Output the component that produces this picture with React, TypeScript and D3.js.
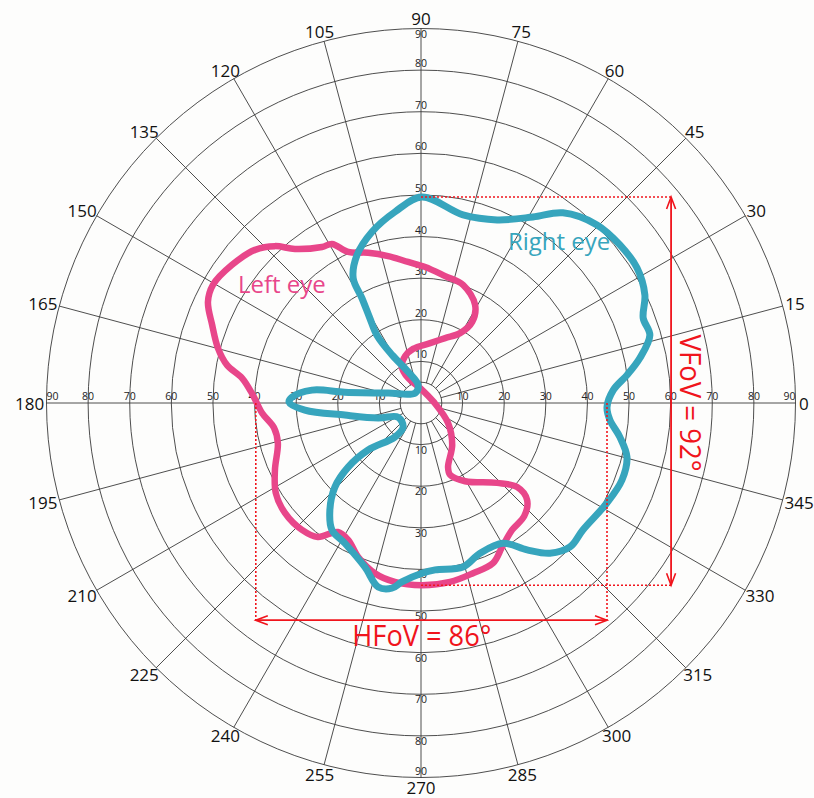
import React from 'react';
import * as d3 from 'd3';

// visual field in degrees: [horizontal, vertical] eccentricity
const rightEye: [number, number][] = [
  [0.2, 49.5], [10.1, 45.2], [18.3, 44.0], [26.9, 44.7], [34.1, 45.7], [42.3, 42.8],
  [47.8, 38.0], [51.9, 32.5], [53.8, 26.0], [53.4, 20.4], [55.0, 16.3], [52.6, 10.8],
  [49.5, 6.7], [46.2, 3.1], [44.7, -1.0], [45.4, -4.1], [47.8, -8.2], [49.5, -13.0],
  [48.3, -18.5], [44.7, -24.0], [38.9, -30.5], [35.8, -34.6], [31.0, -36.1], [25.5, -35.3],
  [19.7, -33.7], [14.2, -36.1], [10.1, -39.4], [3.4, -40.1], [0.2, -40.9], [-4.6, -43.0],
  [-7.0, -44.5], [-10.3, -44.2], [-13.5, -39.4], [-18.3, -33.7], [-21.4, -30.5], [-21.9, -25.7],
  [-20.7, -20.2], [-17.5, -15.4], [-12.7, -11.3], [-6.3, -8.2], [-4.3, -5.8], [-5.5, -3.4],
  [-10.3, -3.6], [-18.3, -2.9], [-27.9, -1.7], [-31.7, 0.2], [-31.0, 1.4], [-26.2, 3.1],
  [-18.3, 2.6], [-7.9, 2.4], [-1.4, 2.4], [-0.7, 4.3], [-3.1, 7.5], [-6.9, 11.5],
  [-10.6, 16.3], [-12.3, 20.4], [-14.2, 25.2], [-16.3, 30.0], [-15.4, 35.5], [-11.8, 41.1],
  [-6.3, 45.9],
];

const leftEye: [number, number][] = [
  [-4.6, 8.7], [-3.8, 11.3], [-1.9, 13.0], [2.2, 14.4], [5.8, 15.6], [9.4, 16.8],
  [12.3, 19.5], [13.0, 23.6], [10.1, 28.4], [5.8, 30.5], [1.0, 32.7], [-3.1, 33.9],
  [-7.9, 35.3], [-12.7, 36.1], [-17.5, 36.3], [-21.4, 38.2], [-23.8, 37.5], [-30.3, 37.0],
  [-35.1, 37.7], [-39.9, 36.8], [-45.4, 33.2], [-50.0, 28.4], [-51.2, 24.3], [-50.2, 18.8],
  [-48.8, 13.2], [-46.6, 9.1], [-43.0, 6.0], [-40.4, 1.9], [-38.2, -2.4], [-35.3, -6.0],
  [-34.4, -9.6], [-35.1, -16.1], [-34.9, -21.6], [-32.7, -26.4], [-28.6, -30.5], [-24.8, -32.2],
  [-20.0, -31.0], [-17.5, -32.9], [-15.1, -37.0], [-11.1, -40.9], [-6.3, -43.0], [0.2, -43.8],
  [7.0, -43.0], [12.5, -40.9], [17.3, -38.5], [19.5, -34.6], [21.9, -30.5], [24.8, -27.2],
  [25.5, -23.3], [23.1, -20.2], [18.3, -19.2], [10.6, -18.8], [7.0, -17.3], [6.5, -15.4],
  [7.5, -10.1], [6.5, -4.8], [3.1, 0.2], [-0.2, 3.6], [-3.1, 6.0],
];

const angleTicks = [0, 15, 30, 45, 60, 75, 90, 105, 120, 135, 150, 165, 180, 195, 210, 225, 240, 255, 270, 285, 300, 315, 330, 345];
const rings = [10, 20, 30, 40, 50, 60, 70, 80, 90];
const innerRing = 5;

// field of view box (degrees) and the two measurements
const fovTop = 49.5;
const fovBottom = -43.8;
const fovLeft = -39.7;
const fovRight = 44.7;
const vArrowX = 60.1;
const hArrowY = -52.2;
const vLabel = 'VFoV = 92°';
const hLabel = 'HFoV = 86°';

const W = 814;
const H = 798;
const cx = 421;
const cy = 403;
const R = 374.5;

const PINK = '#e8468a';
const TEAL = '#37a5bd';
const RED = '#f0141c';
const GRID = '#3a3a3a';
const FONT = '"Open Sans", "DejaVu Sans", sans-serif';

export default function App() {
  const x = d3.scaleLinear().domain([-90, 90]).range([cx - R, cx + R]);
  const y = d3.scaleLinear().domain([-90, 90]).range([cy + R, cy - R]);
  const r = d3.scaleLinear().domain([0, 90]).range([0, R]);

  const line = d3
    .line<[number, number]>()
    .x((d) => x(d[0]))
    .y((d) => y(d[1]))
    .curve(d3.curveCatmullRomClosed.alpha(0.5));

  const rad = (a: number) => (a * Math.PI) / 180;

  const arrowHead = (px: number, py: number, dx: number, dy: number, key: string) => {
    // open V head pointing along (dx, dy)
    const len = 12;
    const half = 4.5;
    const bx = px - dx * len;
    const by = py - dy * len;
    const nx = -dy;
    const ny = dx;
    return (
      <path
        key={key}
        d={`M${bx + nx * half},${by + ny * half}L${px},${py}L${bx - nx * half},${by - ny * half}`}
        fill="none"
        stroke={RED}
        strokeWidth={1.6}
      />
    );
  };

  return (
    <svg
      width={W}
      height={H}
      style={{ position: 'absolute', left: 0, top: 0, background: '#fdfdfc' }}
      fontFamily={FONT}
    >
      {/* grid */}
      <g fill="none" stroke={GRID} strokeWidth={0.9}>
        <circle cx={cx} cy={cy} r={r(innerRing)} />
        {rings.map((d) => (
          <circle key={d} cx={cx} cy={cy} r={r(d)} />
        ))}
        {angleTicks.map((a) => {
          const start = a % 90 === 0 ? 0 : r(innerRing);
          return (
            <line
              key={a}
              x1={cx + start * Math.cos(rad(a))}
              y1={cy - start * Math.sin(rad(a))}
              x2={cx + R * Math.cos(rad(a))}
              y2={cy - R * Math.sin(rad(a))}
            />
          );
        })}
      </g>

      {/* angle labels */}
      <g fontSize={17} fill="#111">
        {angleTicks.map((a) => {
          const t = String(a);
          const w = t.length * 8.6;
          const h = 12;
          const rr = R + 4;
          const px = cx + rr * Math.cos(rad(a)) + (Math.cos(rad(a)) * w) / 2;
          const py = cy - rr * Math.sin(rad(a)) - (Math.sin(rad(a)) * h) / 2;
          return (
            <text key={a} x={px} y={py} textAnchor="middle" dominantBaseline="central">
              {t}
            </text>
          );
        })}
      </g>

      {/* eccentricity labels along the axes */}
      <g fontSize={10.5} fill="#222" textAnchor="middle">
        {rings.map((d) => {
          const shift = d === 90 ? 6 : 0;
          return (
            <g key={d}>
              <text x={x(d) - shift} y={cy - 3}>{d}</text>
              <text x={x(-d) + shift} y={cy - 3}>{d}</text>
              <text x={cx} y={d === 90 ? y(d) + 9 : y(d) - 3}>{d}</text>
              <text x={cx} y={d === 90 ? y(-d) - 3 : y(-d) + 9}>{d}</text>
            </g>
          );
        })}
      </g>

      {/* eyes */}
      <path d={line(leftEye) ?? ''} fill="none" stroke={PINK} strokeWidth={6.5} strokeLinejoin="round" />
      <path d={line(rightEye) ?? ''} fill="none" stroke={TEAL} strokeWidth={7} strokeLinejoin="round" />

      <text x={x(-44)} y={y(26.4)} fontSize={24} fill={PINK}>
        Left eye
      </text>
      <text x={x(20.9)} y={y(36.8)} fontSize={24} fill={TEAL}>
        Right eye
      </text>

      {/* field of view annotations */}
      <g fill="none" stroke={RED} strokeWidth={1.6} strokeDasharray="2,2">
        <line x1={x(0)} y1={y(fovTop)} x2={x(vArrowX)} y2={y(fovTop)} />
        <line x1={x(0)} y1={y(fovBottom)} x2={x(vArrowX)} y2={y(fovBottom)} />
        <line x1={x(fovLeft)} y1={y(0)} x2={x(fovLeft)} y2={y(hArrowY)} />
        <line x1={x(fovRight)} y1={y(0)} x2={x(fovRight)} y2={y(hArrowY)} />
      </g>
      <g stroke={RED} strokeWidth={1.8}>
        <line x1={x(vArrowX)} y1={y(fovTop)} x2={x(vArrowX)} y2={y(fovBottom)} />
        <line x1={x(fovLeft)} y1={y(hArrowY)} x2={x(fovRight)} y2={y(hArrowY)} />
      </g>
      {arrowHead(x(vArrowX), y(fovTop), 0, -1, 'vt')}
      {arrowHead(x(vArrowX), y(fovBottom), 0, 1, 'vb')}
      {arrowHead(x(fovLeft), y(hArrowY), -1, 0, 'hl')}
      {arrowHead(x(fovRight), y(hArrowY), 1, 0, 'hr')}

      <text
        transform={`translate(${x(64.9)},${y(0)}) rotate(90)`}
        textAnchor="middle"
        dominantBaseline="central"
        fontSize={30}
        fill={RED}
        textLength={137}
        lengthAdjust="spacingAndGlyphs"
      >
        {vLabel}
      </text>
      <text
        x={x(0.2)}
        y={y(-58.5)}
        textAnchor="middle"
        fontSize={30}
        fill={RED}
        textLength={139}
        lengthAdjust="spacingAndGlyphs"
      >
        {hLabel}
      </text>
    </svg>
  );
}
